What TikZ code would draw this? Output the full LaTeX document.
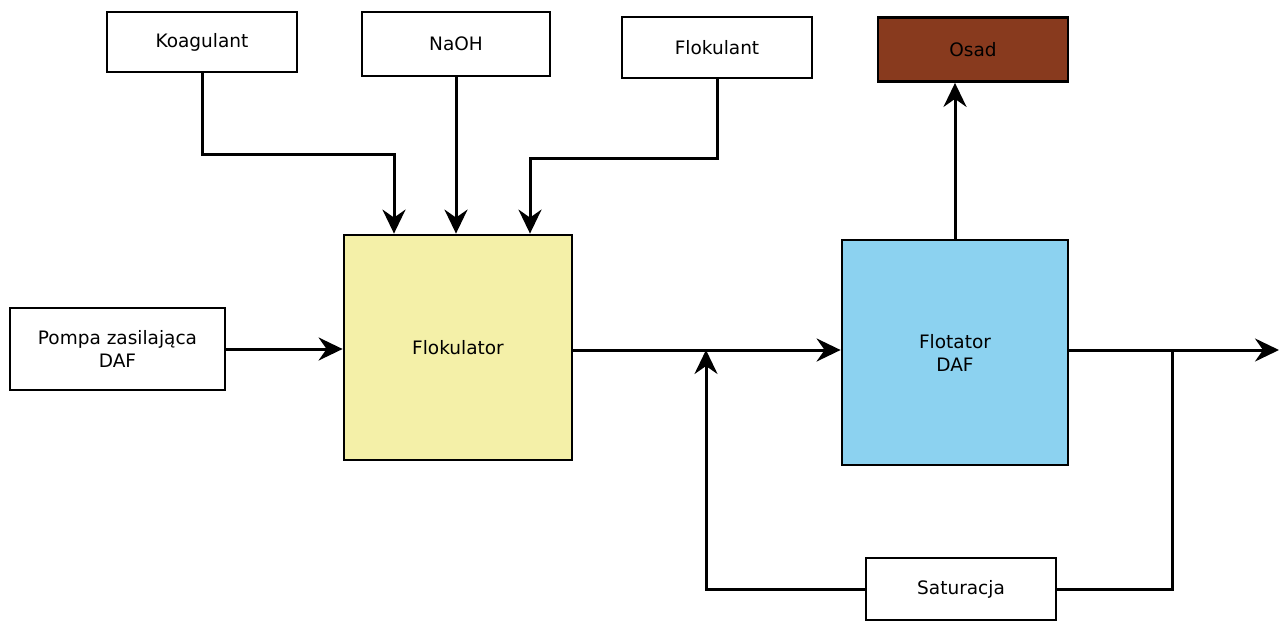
\documentclass[tikz,border=0pt]{standalone}
\usepackage{fontspec}
\setmainfont{DejaVu Sans}
\usepackage{tikz}
\usetikzlibrary{arrows.meta}

\definecolor{flokyellow}{RGB}{244,240,168}
\definecolor{flotblue}{RGB}{140,210,240}
\definecolor{osadbrown}{RGB}{136,58,30}

\tikzset{
	blok/.style={draw,line width=2.8pt,fill=white,align=center,inner sep=0pt,
		font=\fontsize{18.5}{23}\selectfont},
	pipe/.style={line width=3pt},
}

\begin{document}
\begin{tikzpicture}[x=1pt,y=-1pt,>={Stealth[length=24pt,width=23pt,inset=8pt]}]
			\useasboundingbox (0,0) rectangle (1280,624);
			% dozowanie
			\node[blok,minimum width=190,minimum height=60] (koag) at (202,42) {Koagulant};
			\node[blok,minimum width=188,minimum height=64] (naoh) at (456,44) {NaOH};
			\node[blok,minimum width=190,minimum height=61] (flok) at (717,47.5) {Flokulant};
			\node[blok,minimum width=190,minimum height=64,fill=osadbrown] (osad) at (973,49.5) {Osad};
			% linia glowna
			\node[blok,minimum width=215,minimum height=82] (pompa) at (117.5,349) {Pompa zasilająca\\DAF};
			\node[blok,minimum width=228,minimum height=225,fill=flokyellow] (flokulator) at (458,347.5) {Flokulator};
			\node[blok,minimum width=226,minimum height=225,fill=flotblue] (flotator) at (955,352.5) {Flotator\\DAF};
			\node[blok,minimum width=190,minimum height=62] (satur) at (961,589) {Saturacja};
			\coordinate (wylot) at (1279,350);
			\coordinate (wezel) at (706,350);
			\coordinate (rozgal) at (1172,350);
			% polaczenia
			\draw[pipe,->] (koag.south) -- ++(0,81) -| ([xshift=-64pt]flokulator.north);
			\draw[pipe,->] (naoh.south) -- (naoh.south |- flokulator.north);
			\draw[pipe,->] (flok.south) -- ++(0,79) -| ([xshift=72pt]flokulator.north);
			\draw[pipe,->] (pompa.east) -- (pompa.east -| flokulator.west);
			\draw[pipe,->] (flokulator.east |- wezel) -- (flotator.west |- wezel);
			\draw[pipe,->] (satur.west) -| (wezel);
			\draw[pipe,->] (flotator.east |- wylot) -- (wylot);
			\draw[pipe] (rozgal) |- (satur.east);
			\draw[pipe,->] (flotator.north) -- (flotator.north |- osad.south);
		\end{tikzpicture}
\end{document}
